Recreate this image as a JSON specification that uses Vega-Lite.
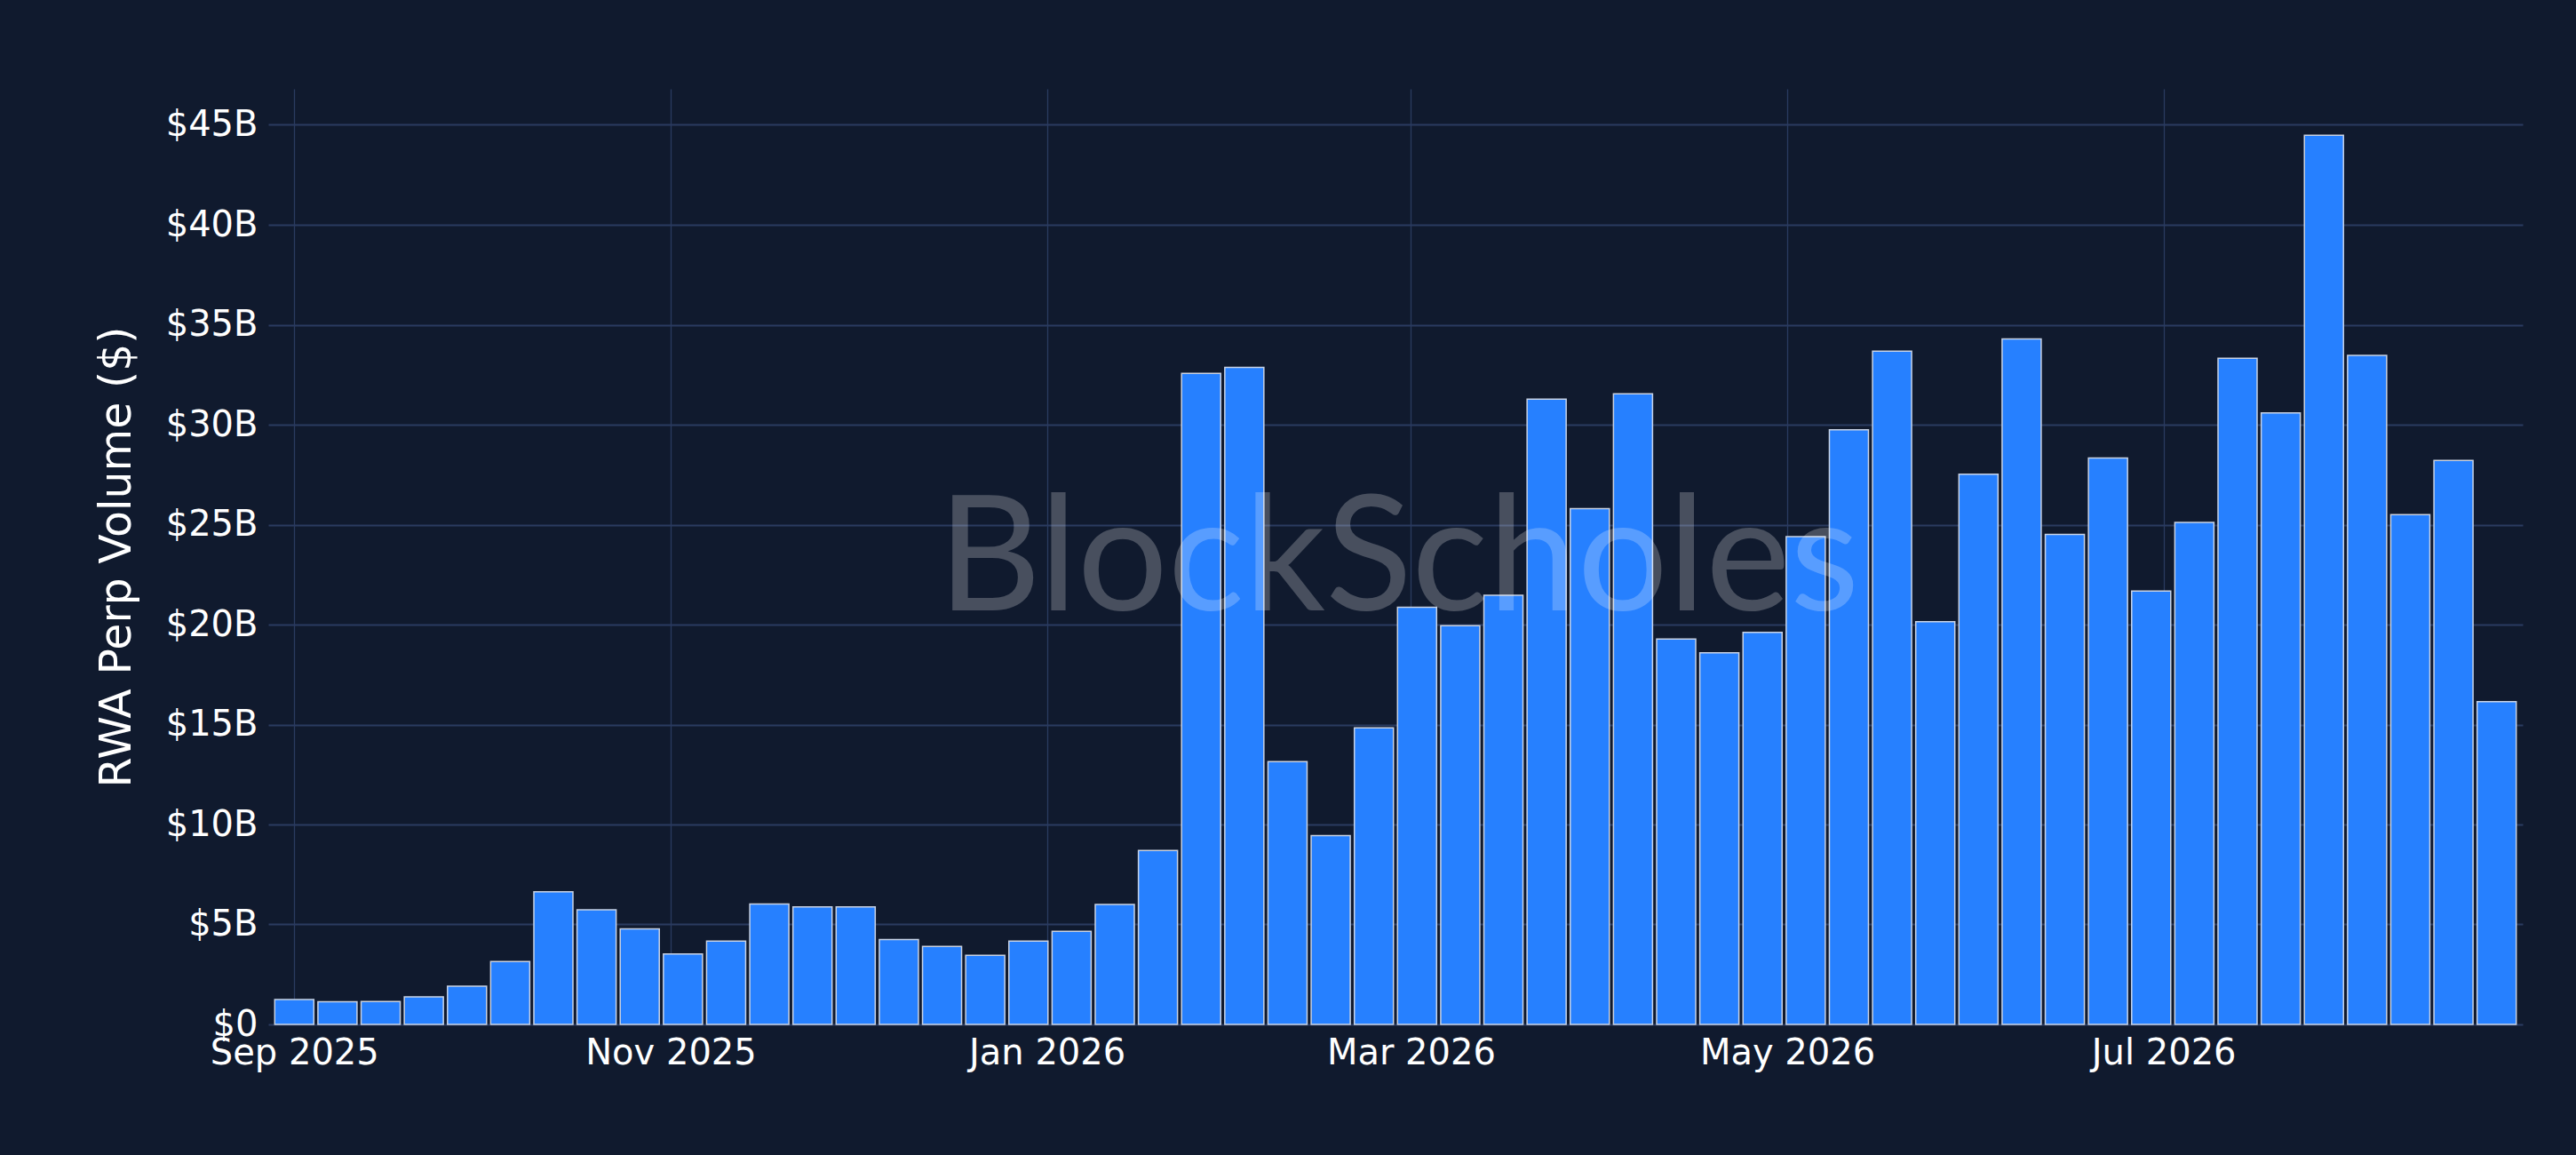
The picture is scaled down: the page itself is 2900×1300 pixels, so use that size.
{
  "$schema": "https://vega.github.io/schema/vega-lite/v6.json",
  "description": "Weekly RWA perp volume, Sep 2025 - Aug 2026",
  "autosize": {"type": "none"},
  "width": 2538,
  "height": 1053,
  "padding": {"left": 302, "top": 100, "right": 60, "bottom": 147},
  "background": "#101a2e",
  "datasets": {
    "weekly": [
      {"week": "2025-09-01", "volume": 1.25},
      {"week": "2025-09-08", "volume": 1.13},
      {"week": "2025-09-15", "volume": 1.14},
      {"week": "2025-09-22", "volume": 1.38},
      {"week": "2025-09-29", "volume": 1.91},
      {"week": "2025-10-06", "volume": 3.15},
      {"week": "2025-10-13", "volume": 6.63},
      {"week": "2025-10-20", "volume": 5.73},
      {"week": "2025-10-27", "volume": 4.78},
      {"week": "2025-11-03", "volume": 3.52},
      {"week": "2025-11-10", "volume": 4.17},
      {"week": "2025-11-17", "volume": 6.02},
      {"week": "2025-11-24", "volume": 5.88},
      {"week": "2025-12-01", "volume": 5.88},
      {"week": "2025-12-08", "volume": 4.24},
      {"week": "2025-12-15", "volume": 3.9},
      {"week": "2025-12-22", "volume": 3.46},
      {"week": "2025-12-29", "volume": 4.17},
      {"week": "2026-01-05", "volume": 4.66},
      {"week": "2026-01-12", "volume": 6.0},
      {"week": "2026-01-19", "volume": 8.7},
      {"week": "2026-01-26", "volume": 32.57},
      {"week": "2026-02-02", "volume": 32.87},
      {"week": "2026-02-09", "volume": 13.14},
      {"week": "2026-02-16", "volume": 9.44},
      {"week": "2026-02-23", "volume": 14.83},
      {"week": "2026-03-02", "volume": 20.87},
      {"week": "2026-03-09", "volume": 19.94},
      {"week": "2026-03-16", "volume": 21.47},
      {"week": "2026-03-23", "volume": 31.28},
      {"week": "2026-03-30", "volume": 25.8},
      {"week": "2026-04-06", "volume": 31.55},
      {"week": "2026-04-13", "volume": 19.28},
      {"week": "2026-04-20", "volume": 18.59},
      {"week": "2026-04-27", "volume": 19.61},
      {"week": "2026-05-04", "volume": 24.4},
      {"week": "2026-05-11", "volume": 29.74},
      {"week": "2026-05-18", "volume": 33.68},
      {"week": "2026-05-25", "volume": 20.15},
      {"week": "2026-06-01", "volume": 27.52},
      {"week": "2026-06-08", "volume": 34.29},
      {"week": "2026-06-15", "volume": 24.51},
      {"week": "2026-06-22", "volume": 28.33},
      {"week": "2026-06-29", "volume": 21.68},
      {"week": "2026-07-06", "volume": 25.11},
      {"week": "2026-07-13", "volume": 33.32},
      {"week": "2026-07-20", "volume": 30.59},
      {"week": "2026-07-27", "volume": 44.48},
      {"week": "2026-08-03", "volume": 33.47},
      {"week": "2026-08-10", "volume": 25.5},
      {"week": "2026-08-17", "volume": 28.21},
      {"week": "2026-08-24", "volume": 16.15}
    ]
  },
  "layer": [
    {
      "data": {"name": "weekly"},
      "mark": {
        "type": "bar",
        "width": 44,
        "fill": "#2680ff",
        "stroke": "#c8d2e4",
        "strokeWidth": 1.5
      },
      "encoding": {
        "x": {
          "field": "week",
          "type": "temporal",
          "scale": {
            "type": "utc",
            "domain": [
              {"year": 2025, "month": 8, "date": 28, "hours": 12, "utc": true},
              {"year": 2026, "month": 8, "date": 27, "hours": 12, "utc": true}
            ]
          },
          "axis": {
            "title": null,
            "labelExpr": "utcFormat(datum.value, '%b %Y')",
            "labelLimit": 0,
            "values": [
              {"year": 2025, "month": 9, "date": 1, "utc": true},
              {"year": 2025, "month": 11, "date": 1, "utc": true},
              {"year": 2026, "month": 1, "date": 1, "utc": true},
              {"year": 2026, "month": 3, "date": 1, "utc": true},
              {"year": 2026, "month": 5, "date": 1, "utc": true},
              {"year": 2026, "month": 7, "date": 1, "utc": true}
            ],
            "gridWidth": 1.3,
            "labelPadding": 12
          }
        },
        "y": {
          "field": "volume",
          "type": "quantitative",
          "scale": {"domain": [0, 46.8], "nice": false},
          "axis": {
            "title": "RWA Perp Volume ($)",
            "values": [0, 5, 10, 15, 20, 25, 30, 35, 40, 45],
            "labelExpr": "datum.value == 0 ? '$0' : '$' + datum.value + 'B'",
            "gridWidth": 2,
            "labelPadding": 12,
            "titlePadding": 30
          }
        },
        "tooltip": [
          {"field": "week", "type": "temporal", "title": "Week"},
          {"field": "volume", "type": "quantitative", "title": "Volume ($B)"}
        ]
      }
    },
    {
      "data": {"values": [{"label": "BlockScholes"}]},
      "mark": {
        "type": "text",
        "font": "Lato",
        "fontSize": 180,
        "align": "center",
        "baseline": "alphabetic",
        "color": "#ffffff",
        "opacity": 0.23
      },
      "encoding": {
        "x": {"datum": {"year": 2026, "month": 2, "date": 27, "utc": true}, "type": "temporal"},
        "y": {"datum": 20.7, "type": "quantitative"},
        "text": {"field": "label"}
      }
    }
  ],
  "config": {
    "font": "DejaVu Sans",
    "view": {"stroke": null},
    "axis": {
      "domain": false,
      "ticks": false,
      "grid": true,
      "gridColor": "#2a3b60",
      "labelColor": "#ffffff",
      "labelFontSize": 40,
      "labelFont": "DejaVu Sans",
      "titleColor": "#ffffff",
      "titleFontSize": 49,
      "titleFontWeight": "normal",
      "titleFont": "DejaVu Sans"
    }
  }
}
